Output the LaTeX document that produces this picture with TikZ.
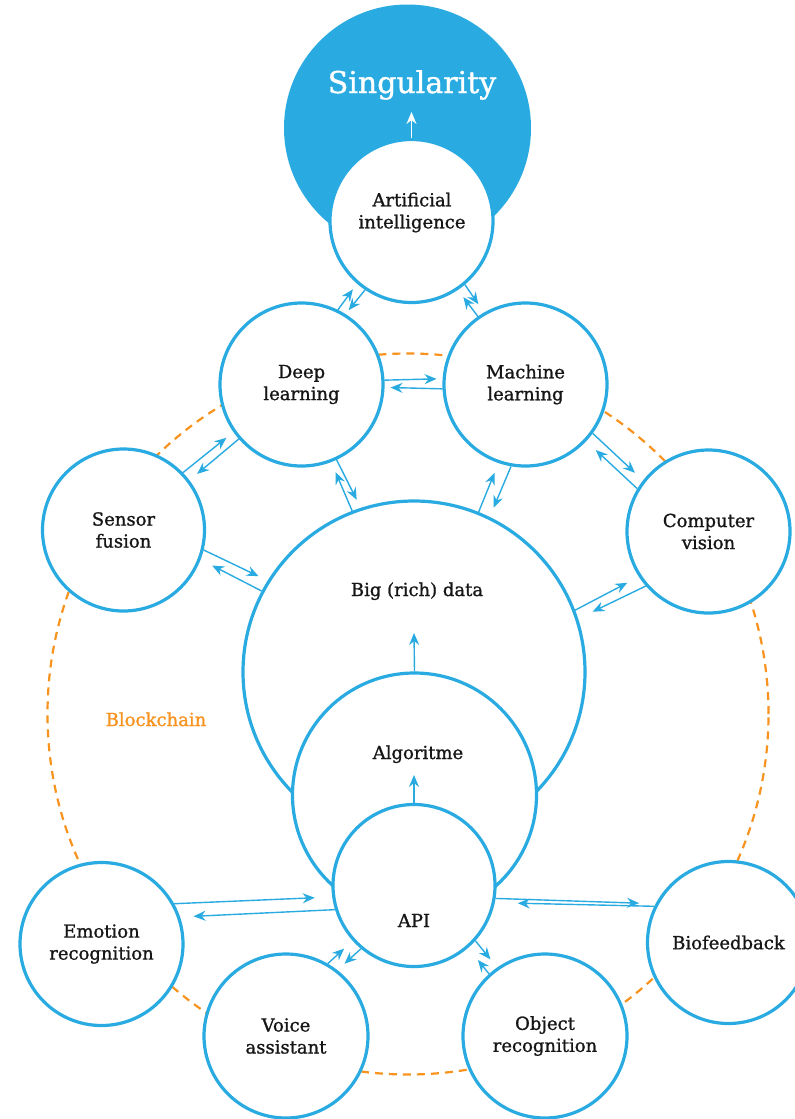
\documentclass[tikz,border=0pt]{standalone}
\usepackage{fontspec}
\setmainfont{DejaVu Serif}
\newfontfamily\slabfont{DejaVu Serif}[FakeBold=1.1]
\usetikzlibrary{arrows.meta,calc}
\definecolor{cblue}{HTML}{29ABE2}
\definecolor{corange}{HTML}{F7931E}
\definecolor{ctext}{HTML}{161616}
\newcommand\lblfont{\slabfont\fontsize{18}{22}\selectfont}
\newcommand\linkarrow[5]{\draw[arr, shorten >=#5pt] (#1.#2) -- (#3.#4);}
\begin{document}
\begin{tikzpicture}[x=1pt,y=-1pt,
  bub/.style={circle, draw=cblue, line width=3.2pt, fill=white, minimum size=#1pt,
    inner sep=0pt, text=ctext, align=center, font=\lblfont},
  txt/.style={text=ctext, align=center, font=\lblfont, inner sep=0pt},
  arr/.style={draw=cblue, line width=1.4pt, -{Stealth[length=12pt,width=10pt,inset=4pt]}},
  arrw/.style={draw=white, line width=1.4pt, -{Stealth[length=12pt,width=10pt,inset=4pt]}},
  chainc/.style={circle, draw=corange, line width=2.2pt, dash pattern=on 8pt off 6pt,
    minimum size=#1pt, inner sep=0pt}
]
\useasboundingbox (0,0) rectangle (795,1119);
\fill[white] (0,0) rectangle (795,1119);

% blockchain ring
\node[chainc=721] (chain) at (408,714) {};

% singularity
\node[circle, fill=cblue, minimum size=247pt, inner sep=0pt] (sing) at (407.5,128) {};

% nested central circles
\node[bub=342] (bd) at (414,672) {};
\node[bub=244] (alg) at (414.5,795) {};
\node[bub=162] (api) at (414,885.5) {};

% satellite circles
\node[bub=163] (ai) at (411.5,221) {};
\node[bub=163] (dl) at (301.5,384.5) {Deep\\learning};
\node[bub=163] (ml) at (525.5,384.5) {Machine\\learning};
\node[bub=162] (sf) at (123.5,530) {Sensor\\fusion};
\node[bub=163] (cv) at (708.5,531.5) {Computer\\vision};
\node[bub=163] (em) at (101.5,944) {Emotion\\recognition};
\node[bub=164] (va) at (286,1036) {Voice\\assistant};
\node[bub=164] (obj) at (545,1036) {Object\\recognition};
\node[bub=162] (bio) at (728.5,942.5) {Biofeedback};

% texts
\node[txt, font=\slabfont\fontsize{30}{36}\selectfont, text=white, anchor=base] (singtxt) at (412,93) {Singularity};
\node[txt] (aitxt) at (412,212.5) {Artificial\\intelligence};
\node[txt, anchor=base] (bdtxt) at (417,596) {Big (rich) data};
\node[txt, anchor=base] (algtxt) at (418,759) {Algoritme};
\node[txt, anchor=base] (apitxt) at (414,927) {API};
\node[txt, text=corange, anchor=base] (chainlbl) at (156,726) {Blockchain};

% single upward arrows
\coordinate (singtip) at (411.5,112);
\coordinate (bdtip) at (414,633);
\coordinate (algtip) at (414,775);
\draw[arrw] (ai.north) -- (singtip);
\draw[arr] (alg.north) -- (bdtip);
\draw[arr] (api.north) -- (algtip);

% paired arrows
\linkarrow{dl}{64.5}{ai}{229.3}{7}
\linkarrow{ai}{236}{dl}{58}{5}
\linkarrow{ai}{-50.3}{ml}{120.5}{10}
\linkarrow{ml}{125.5}{ai}{-56.9}{9}
\linkarrow{dl}{3.8}{ml}{176.4}{6}
\linkarrow{ml}{183.2}{dl}{-2.9}{6}
\linkarrow{sf}{44.6}{dl}{215.2}{9}
\linkarrow{dl}{221.7}{sf}{37.8}{10}
\linkarrow{dl}{-65}{bd}{108.4}{9}
\linkarrow{bd}{111.2}{dl}{-69.7}{11}
\linkarrow{bd}{68.1}{ml}{251.6}{10.5}
\linkarrow{ml}{260.3}{bd}{64.8}{10}
\linkarrow{ml}{-36.4}{cv}{142.3}{11}
\linkarrow{cv}{149.8}{ml}{-43.2}{13}
\linkarrow{sf}{-14}{bd}{148.5}{10}
\linkarrow{bd}{152.2}{sf}{-21.5}{13}
\linkarrow{bd}{21.1}{cv}{213.2}{13}
\linkarrow{cv}{221.7}{bd}{18.6}{16}
\linkarrow{em}{29.9}{api}{188.9}{17.5}
\linkarrow{api}{197.2}{em}{19.2}{13.5}
\linkarrow{va}{60.8}{api}{222.8}{11.5}
\linkarrow{api}{230.1}{va}{52}{9.5}
\linkarrow{api}{-42.7}{obj}{125.9}{10.5}
\linkarrow{obj}{132.4}{api}{-49.6}{15.5}
\linkarrow{api}{-9.7}{bio}{152.9}{16.5}
\linkarrow{bio}{154.9}{api}{-12.8}{23}
\end{tikzpicture}
\end{document}
